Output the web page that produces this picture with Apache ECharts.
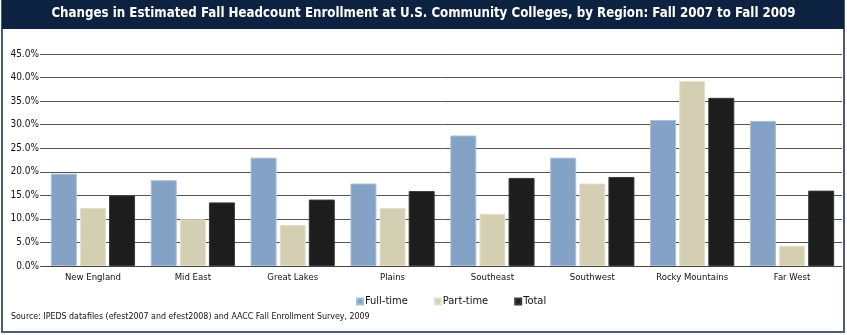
<!DOCTYPE html>
<html>
<head>
<meta charset="utf-8">
<script src="https://cdn.jsdelivr.net/npm/echarts@6/dist/echarts.min.js"></script>
<style>html,body{margin:0;padding:0;background:#fff}#c{width:847px;height:335px}</style>
</head>
<body>
<div id="c"></div>
<script>
const categories = ['New England','Mid East','Great Lakes','Plains','Southeast','Southwest','Rocky Mountains','Far West'];
const fullTime = [19.6, 18.2, 23.0, 17.5, 27.7, 23.0, 31.0, 30.8];
const partTime = [12.3, 9.9, 8.7, 12.3, 11.1, 17.5, 39.3, 4.3];
const total = [15.0, 13.5, 14.1, 15.9, 18.7, 18.9, 35.7, 16.0];
const seriesNames = ['Full-time','Part-time','Total'];
const titleText = 'Changes in Estimated Fall Headcount Enrollment at U.S. Community Colleges, by Region: Fall 2007 to Fall 2009';
const sourceText = 'Source: IPEDS datafiles (efest2007 and efest2008) and AACC Fall Enrollment Survey, 2009';

const FONT = "'DejaVu Sans Condensed', 'Liberation Sans', sans-serif";
const colors = ['#84a2c5', '#d4cfb2', '#1e1d1d'];
const borders = ['#a9bdd6', '#e4e0cc', '#3a3a3a'];
const chart = echarts.init(document.getElementById('c'), null, {renderer: 'canvas'});
const dataSets = [fullTime, partTime, total];
chart.setOption({
  animation: false,
  textStyle: {fontFamily: FONT},
  graphic: [
    {type: 'rect', z: -10, shape: {x: 2, y: 0, width: 842, height: 332}, style: {fill: '#fff', stroke: '#4a5a78', lineWidth: 2}},
    {type: 'rect', z: -5, shape: {x: 2, y: 0, width: 842, height: 29}, style: {fill: '#0c2240'}},
    {type: 'text', left: 'center', top: 7, style: {text: titleText, fill: '#fff', font: "bold 13.2px " + FONT}},
    {type: 'text', left: 11, top: 312, style: {text: sourceText, fill: '#111', font: "8.8px " + FONT}}
  ],
  legend: {
    data: seriesNames,
    left: 351, top: 291,
    itemWidth: 6, itemHeight: 6, itemGap: 26,
    icon: 'rect',
    textStyle: {fontFamily: FONT, fontSize: 11, color: '#111', padding: [0,0,0,-3]}
  },
  grid: {left: 43, right: 5, top: 54, bottom: 69, containLabel: false},
  xAxis: {
    type: 'category', data: categories,
    axisLine: {lineStyle: {color: '#444', width: 1}},
    axisTick: {show: false},
    axisLabel: {fontFamily: FONT, fontSize: 9.5, color: '#111', margin: 7, interval: 0}
  },
  yAxis: {
    type: 'value', min: 0, max: 45, interval: 5,
    axisLine: {show: false},
    axisTick: {show: true, length: 3, lineStyle: {color: '#555'}},
    splitLine: {lineStyle: {color: '#555', width: 1}},
    axisLabel: {fontFamily: FONT, fontSize: 10, color: '#111', margin: 4, formatter: v => v.toFixed(1) + '%'}
  },
  series: seriesNames.map((n, i) => ({
    name: n, type: 'bar', data: dataSets[i],
    barWidth: 26, barGap: '12%',
    itemStyle: {color: colors[i], borderColor: borders[i], borderWidth: 1}
  }))
});
</script>
</body>
</html>
